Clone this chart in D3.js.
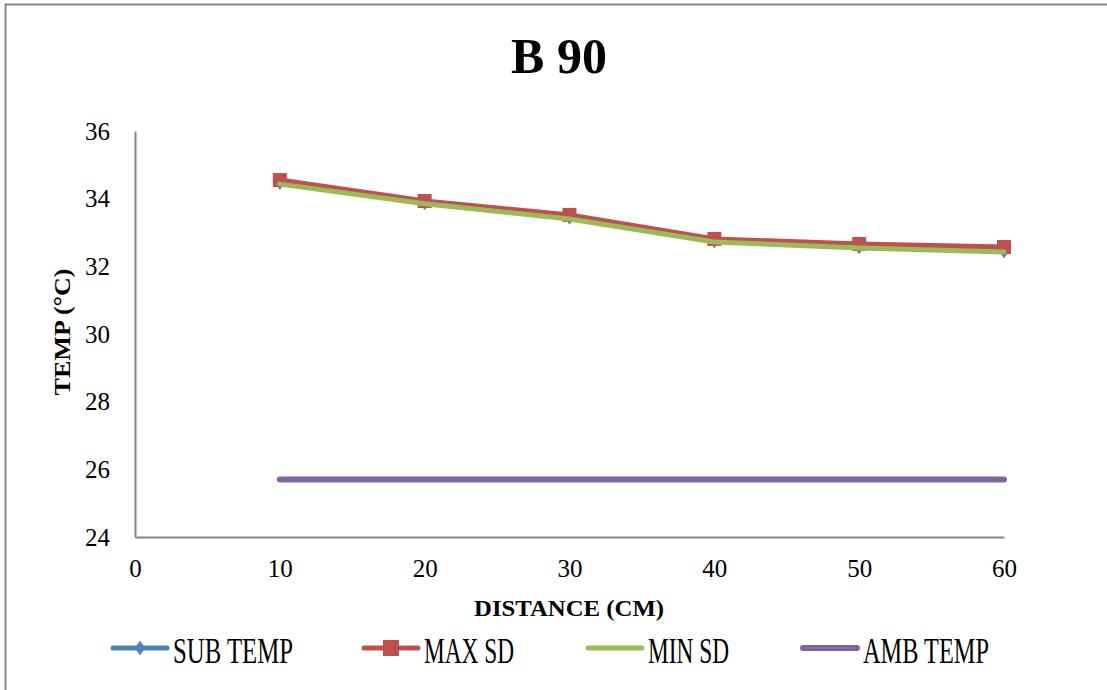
<!DOCTYPE html>
<html><head><meta charset="utf-8">
<script src="https://cdn.jsdelivr.net/npm/d3@7"></script>
<style>body{margin:0;background:#fff}svg{display:block}</style>
</head><body>
<svg id="c" width="1107" height="690"></svg>
<script>
const distances = [10, 20, 30, 40, 50, 60];
const subTemp = [34.48, 33.88, 33.45, 32.75, 32.58, 32.45];
const maxSD = [34.55, 33.93, 33.52, 32.81, 32.66, 32.57];
const minSD = [34.43, 33.85, 33.4, 32.72, 32.54, 32.42];
const ambTemp = [25.7, 25.7, 25.7, 25.7, 25.7, 25.7];
const xTicks = [0, 10, 20, 30, 40, 50, 60];
const yTicks = [24, 26, 28, 30, 32, 34, 36];
const seriesNames = ["SUB TEMP", "MAX SD", "MIN SD", "AMB TEMP"];

const svg = d3.select("#c");
const x = d3.scaleLinear().domain([0, 60]).range([135, 1004]);
const y = d3.scaleLinear().domain([24, 36]).range([537, 131]);
const serif = "'Liberation Serif', 'DejaVu Serif', serif";

// outer border
svg.append("path").attr("d", "M5.5,690 L5.5,4.5 L1107,4.5").attr("fill", "none").attr("stroke", "#868686").attr("stroke-width", 2);

// title
svg.append("text").attr("x", 559).attr("y", 73).attr("text-anchor", "middle")
  .attr("font-family", serif).attr("font-weight", "bold").attr("font-size", 50).text("B 90");

// axes
const xAxis = d3.axisBottom(x).tickValues(xTicks).tickSize(0).tickPadding(22);
const gx = svg.append("g").attr("transform", `translate(0,${y(24)})`).call(xAxis);
gx.select(".domain").attr("stroke", "#868686").attr("stroke-width", 2);
gx.selectAll("text").attr("font-family", serif).attr("font-size", 25).attr("fill", "#000");

const yAxis = d3.axisLeft(y).tickValues(yTicks).tickSize(0).tickPadding(25);
const gy = svg.append("g").attr("transform", `translate(${x(0)},0)`).call(yAxis);
gy.select(".domain").attr("stroke", "#868686").attr("stroke-width", 2);
gy.selectAll("text").attr("font-family", serif).attr("font-size", 25).attr("fill", "#000");

// axis titles
svg.append("text").attr("x", 569).attr("y", 616).attr("text-anchor", "middle")
  .attr("font-family", serif).attr("font-weight", "bold").attr("font-size", 24)
  .attr("textLength", 190).attr("lengthAdjust", "spacingAndGlyphs").text("DISTANCE (CM)");
svg.append("text").attr("transform", "translate(70,332) rotate(-90)").attr("text-anchor", "middle")
  .attr("font-family", serif).attr("font-weight", "bold").attr("font-size", 24)
  .attr("textLength", 127).attr("lengthAdjust", "spacingAndGlyphs").text("TEMP (°C)");

const line = d3.line().x((d, i) => x(distances[i])).y(d => y(d));
const colors = ["#4F81BD", "#C0504D", "#9BBB59", "#8064A2"];
const data = [subTemp, maxSD, minSD, ambTemp];
const widths = [4, 5, 5, 6];
const diamond = "M0,-7.5 L5,0 L0,7.5 L-5,0 Z";

data.forEach((vals, k) => {
  svg.append("path").datum(vals).attr("d", line).attr("fill", "none")
    .attr("stroke", colors[k]).attr("stroke-width", widths[k]).attr("stroke-linecap", "round").attr("stroke-linejoin", "round");
  if (k === 0) {
    svg.selectAll(null).data(vals).enter().append("path")
      .attr("d", diamond)
      .attr("transform", (d, i) => `translate(${x(distances[i])},${y(d)})`)
      .attr("fill", colors[0]);
  }
  if (k === 1) {
    svg.selectAll(null).data(vals).enter().append("rect")
      .attr("x", (d, i) => x(distances[i]) - 7).attr("y", d => y(d) - 7)
      .attr("width", 14).attr("height", 14).attr("fill", colors[1]);
  }
});

// legend
const legX = [113, 364, 588, 803];
const textEnd = [293, 514, 729, 989];
const ly = 648;
seriesNames.forEach((name, k) => {
  const g = svg.append("g");
  g.append("line").attr("x1", legX[k]).attr("x2", legX[k] + 54).attr("y1", ly).attr("y2", ly)
    .attr("stroke", colors[k]).attr("stroke-width", k === 3 ? 6 : 5).attr("stroke-linecap", "round");
  const cx = legX[k] + 27;
  if (k === 0) g.append("path").attr("d", diamond).attr("transform", `translate(${cx},${ly})`).attr("fill", colors[0]);
  if (k === 1) g.append("rect").attr("x", cx - 8).attr("y", ly - 8).attr("width", 16).attr("height", 16).attr("fill", colors[1]);
  const tx = legX[k] + 60;
  g.append("text").attr("x", tx).attr("y", 663).attr("font-family", serif).attr("font-size", 36)
    .attr("textLength", textEnd[k] - tx).attr("lengthAdjust", "spacingAndGlyphs").text(name);
});
</script>
</body></html>
